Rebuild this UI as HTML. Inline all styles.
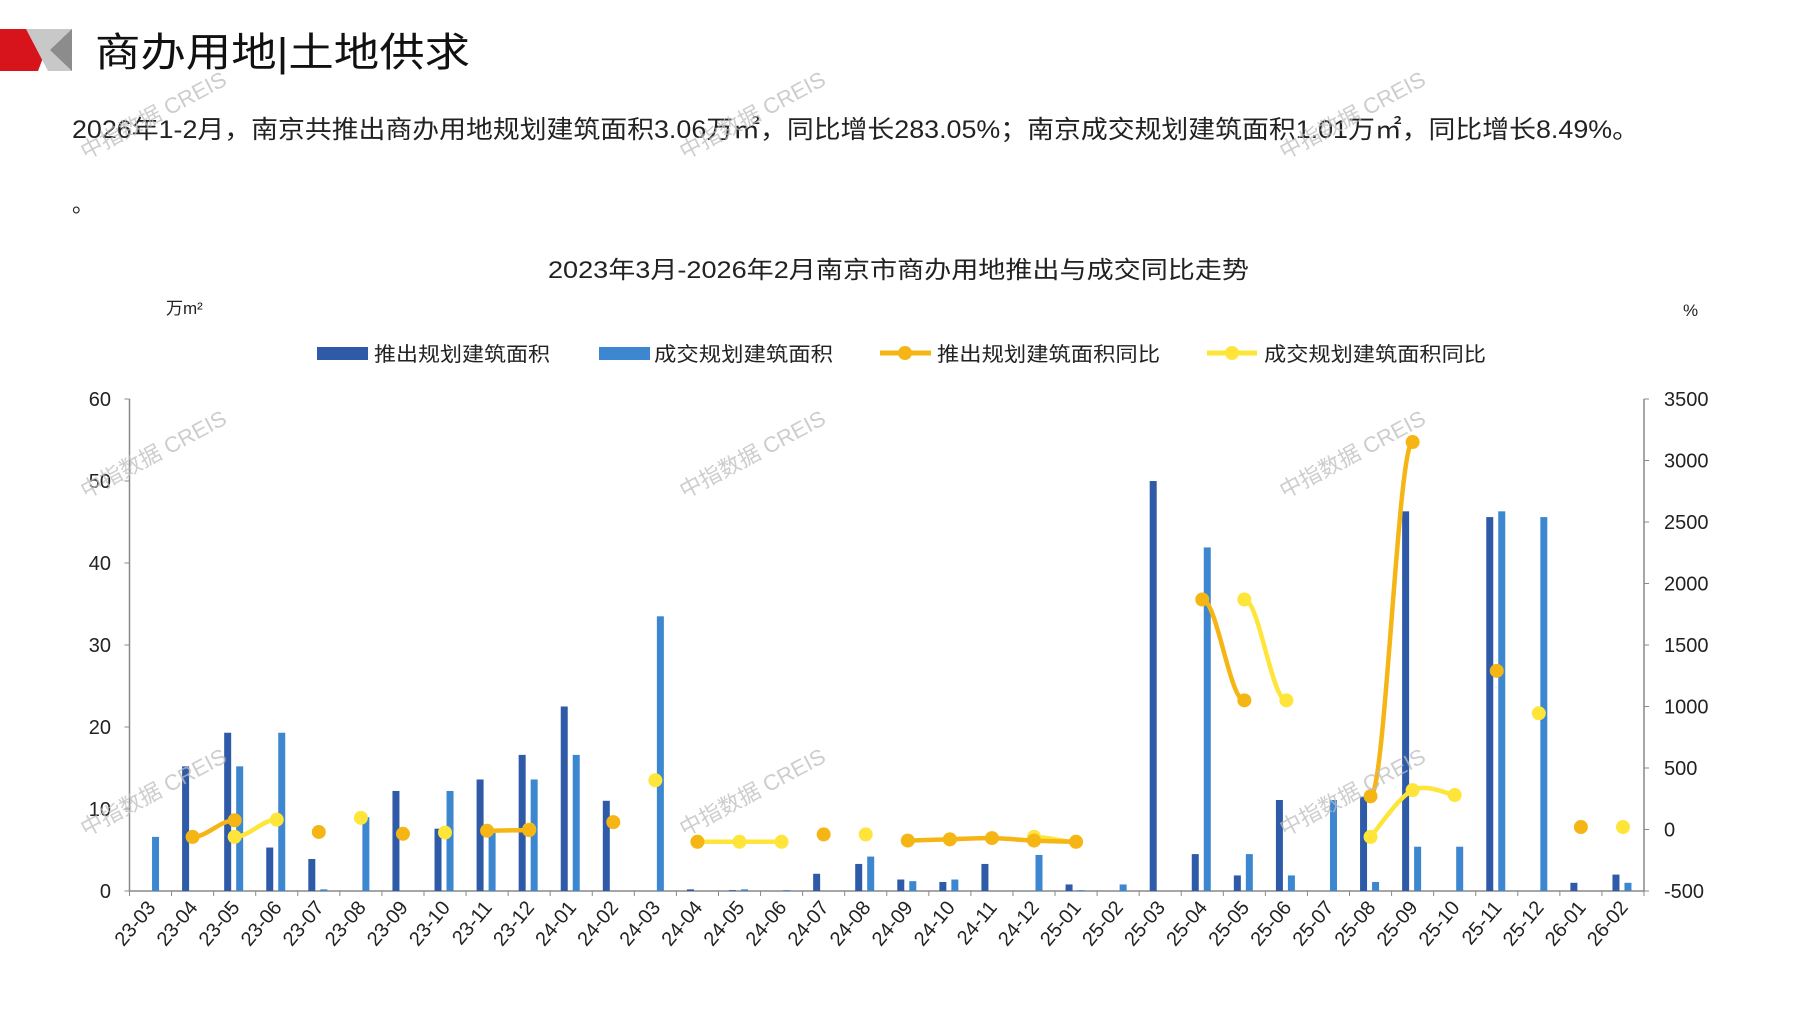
<!DOCTYPE html>
<html><head><meta charset="utf-8"><style>
html,body{margin:0;padding:0;background:#fff;}
svg{display:block;}
text{font-family:"Liberation Sans","Noto Sans CJK SC",sans-serif;}
</style></head><body>
<svg id="s" width="1797" height="1010" viewBox="0 0 1797 1010" xmlns="http://www.w3.org/2000/svg">
<polygon points="0,29 40,29 46,50 38,71 0,71" fill="#d7141b"/>
<polygon points="26,29 72,29 72,71 48,71" fill="#c8c8c8"/>
<polygon points="50,50 72,29 72,71" fill="#8c8c8c"/>
<text x="95" y="66" font-size="40" textLength="375" lengthAdjust="spacingAndGlyphs" fill="#111">商办用地|土地供求</text>
<text x="72" y="138" font-size="25" textLength="1567" lengthAdjust="spacingAndGlyphs" fill="#222">2026年1-2月，南京共推出商办用地规划建筑面积3.06万㎡，同比增长283.05%；南京成交规划建筑面积1.01万㎡，同比增长8.49%。</text>
<text x="72" y="212" font-size="22" fill="#222">。</text>
<text x="548" y="278" font-size="24" textLength="701" lengthAdjust="spacingAndGlyphs" fill="#222">2023年3月-2026年2月南京市商办用地推出与成交同比走势</text>
<text x="166" y="314" font-size="17" fill="#222">万m²</text>
<text x="1683" y="316" font-size="17" fill="#222">%</text>
<rect x="317" y="347" width="51" height="13" fill="#2E5AA8"/>
<text x="374" y="361" font-size="20" textLength="176" lengthAdjust="spacingAndGlyphs" fill="#222">推出规划建筑面积</text>
<rect x="599" y="347" width="51" height="13" fill="#3D87D0"/>
<text x="654" y="361" font-size="20" textLength="179" lengthAdjust="spacingAndGlyphs" fill="#222">成交规划建筑面积</text>
<line x1="880" y1="353" x2="931" y2="353" stroke="#F5B515" stroke-width="5"/><circle cx="905" cy="353" r="7" fill="#F5B515"/>
<text x="937" y="361" font-size="20" textLength="223" lengthAdjust="spacingAndGlyphs" fill="#222">推出规划建筑面积同比</text>
<line x1="1207" y1="353" x2="1257" y2="353" stroke="#FFE43A" stroke-width="5"/><circle cx="1232" cy="353" r="7" fill="#FFE43A"/>
<text x="1264" y="361" font-size="20" textLength="222" lengthAdjust="spacingAndGlyphs" fill="#222">成交规划建筑面积同比</text>
<g id="chart"></g>
<g id="wm" fill="#bdbdbd" opacity="0.75" font-size="22"></g>
</svg>
<script>
var NS="http://www.w3.org/2000/svg",g=document.getElementById("chart");
function el(t,a,p){var e=document.createElementNS(NS,t);for(var k in a)e.setAttribute(k,a[k]);(p||g).appendChild(e);return e;}
var X0=129.5,X1=1644,Y0=891,Y60=399,W=(X1-X0)/36;
function cx(i){return X0+(i+0.5)*W;}
function yl(v){return Y0-v*(Y0-Y60)/60;}
function yr(v){return Y0-(v+500)*(Y0-Y60)/4000;}
var labs=["23-03","23-04","23-05","23-06","23-07","23-08","23-09","23-10","23-11","23-12","24-01","24-02","24-03","24-04","24-05","24-06","24-07","24-08","24-09","24-10","24-11","24-12","25-01","25-02","25-03","25-04","25-05","25-06","25-07","25-08","25-09","25-10","25-11","25-12","26-01","26-02"];
var dark=[0,15.2,19.3,5.3,3.9,0,12.2,7.6,13.6,16.6,22.5,11,0,0.2,0.1,0,2.1,3.3,1.4,1.1,3.3,0,0.8,0,50,4.5,1.9,11.1,0,11.5,46.3,0,45.6,0,1.0,2.0];
var light=[6.6,0,15.2,19.3,0.2,9,0,12.2,7.1,13.6,16.6,0,33.5,0,0.2,0.1,0,4.2,1.2,1.4,0,4.4,0.1,0.8,0,41.9,4.5,1.9,11.1,1.1,5.4,5.4,46.3,45.6,0,1.0];
el("line",{x1:X0,y1:Y60,x2:X0,y2:Y0,stroke:"#888","stroke-width":1.5});
el("line",{x1:X1,y1:Y60,x2:X1,y2:Y0,stroke:"#888","stroke-width":1.5});
el("line",{x1:X0,y1:Y0,x2:X1,y2:Y0,stroke:"#888","stroke-width":1.5});
for(var v=0;v<=60;v+=10){var y=yl(v);el("line",{x1:X0-5,y1:y,x2:X0,y2:y,stroke:"#888"});var t=el("text",{x:111,y:y+7,"font-size":20,"text-anchor":"end",fill:"#222"});t.textContent=v;}
for(var v=-500;v<=3500;v+=500){var y=yr(v);el("line",{x1:X1,y1:y,x2:X1+5,y2:y,stroke:"#888"});var t=el("text",{x:1664,y:y+7,"font-size":20,fill:"#222"});t.textContent=v;}
for(var i=0;i<=36;i++){var x=X0+i*W;el("line",{x1:x,y1:Y0,x2:x,y2:Y0+5,stroke:"#888"});}
for(var i=0;i<36;i++){
 var c=cx(i);
 if(dark[i]>0)el("rect",{x:c-10.5,y:yl(dark[i]),width:7,height:Y0-yl(dark[i]),fill:"#2E5AA8"});
 if(light[i]>0)el("rect",{x:c+1.5,y:yl(light[i]),width:7,height:Y0-yl(light[i]),fill:"#3D87D0"});
 var t=el("text",{x:c+6,y:908,"font-size":20,"text-anchor":"end",fill:"#222",transform:"rotate(-50 "+(c+6)+" 908)"});t.textContent=labs[i];
}
var O={1:-60,2:75,4:-20,6:-35,8:-10,9:-5,11:60,13:-100,16:-40,18:-90,19:-80,20:-70,21:-90,22:-100,25:1870,26:1050,29:270,30:3150,32:1290,34:20};
var Yv={2:-60,3:80,5:95,7:-25,9:0,12:400,13:-100,14:-100,15:-100,17:-40,19:-80,21:-60,22:-100,26:1870,27:1050,29:-60,30:320,31:280,33:945,35:20};
function series(d,col,breaks){
 var runs=[],cur=[];
 for(var i=0;i<36;i++){
  if(d[i]!==undefined){ if(breaks&&breaks.indexOf(i)>=0&&cur.length){runs.push(cur);cur=[];} cur.push([cx(i),yr(d[i])]);}
  else{if(cur.length)runs.push(cur);cur=[];}
 }
 if(cur.length)runs.push(cur);
 runs.forEach(function(r){
  if(r.length>1){
   var p="M"+r[0][0]+","+r[0][1];
   for(var k=0;k<r.length-1;k++){
    var p0=r[k-1]||r[k],p1=r[k],p2=r[k+1],p3=r[k+2]||r[k+1];
    var c1=[p1[0]+(p2[0]-p0[0])/6,p1[1]+(p2[1]-p0[1])/6],c2=[p2[0]-(p3[0]-p1[0])/6,p2[1]-(p3[1]-p1[1])/6];
    if(r.length==2){c1=[p1[0]+(p2[0]-p1[0])*0.35,p1[1]];c2=[p2[0]-(p2[0]-p1[0])*0.35,p2[1]];}
    p+=" C"+c1[0]+","+c1[1]+" "+c2[0]+","+c2[1]+" "+p2[0]+","+p2[1];
   }
   el("path",{d:p,fill:"none",stroke:col,"stroke-width":4.5,"stroke-linecap":"round"});
  }
  r.forEach(function(q){el("circle",{cx:q[0],cy:q[1],r:7,fill:col});});
 });
}
series(Yv,"#FFE43A",[13]);
series(O,"#F5B515");
var wm=document.getElementById("wm");
[[157,122],[756,122],[1356,122],[157,461],[756,461],[1356,461],[157,799],[756,799],[1356,799]].forEach(function(p){
 var t=el("text",{x:p[0],y:p[1],"text-anchor":"middle",transform:"rotate(-28 "+p[0]+" "+p[1]+")"},wm);t.textContent="中指数据 CREIS";
});
</script>
</body></html>
